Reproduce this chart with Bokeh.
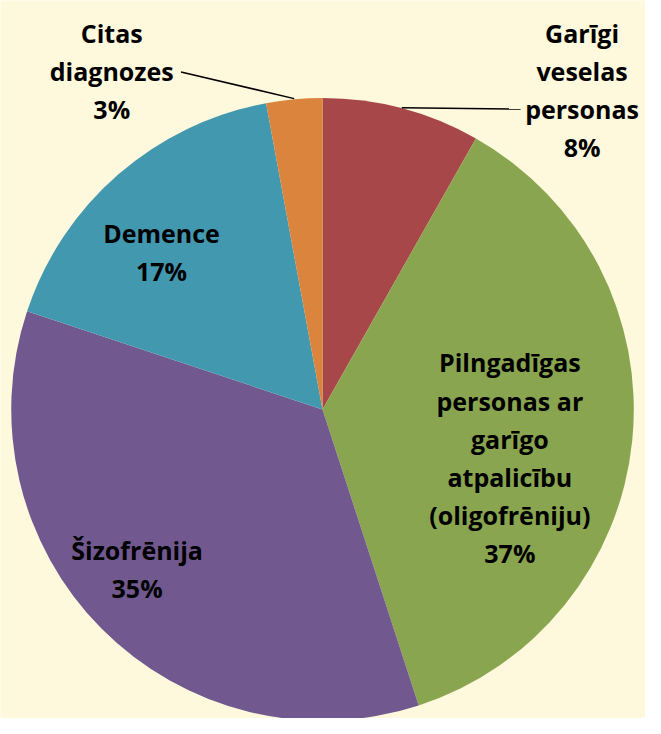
import math
from bokeh.plotting import figure
from bokeh.models import Range1d, ColumnDataSource
from bokeh.core.properties import value
from bokeh.embed import file_html
from bokeh.resources import INLINE

# ---- data ----
categories = ["Garīgi veselas personas",
              "Pilngadīgas personas ar garīgo atpalicību (oligofrēniju)",
              "Šizofrēnija", "Demence", "Citas diagnozes"]
shares = [8.2, 36.8, 35.1, 17.0, 2.9]
colors = ["#A84749", "#8AA54F", "#71598F", "#4298AF", "#DB843E"]
label_lines = [["Garīgi", "veselas", "personas"],
               ["Pilngadīgas", "personas ar", "garīgo", "atpalicību", "(oligofrēniju)"],
               ["Šizofrēnija"],
               ["Demence"],
               ["Citas", "diagnozes"]]

# ---- layout (reference px, converted to y-up) ----
W, H = 661, 734
M = 8
BG = "#FEF8DC"
def sy(y):
    return H - y

cx, cy, R = 330, sy(418), 319
label_pos = [(596, 33), (522, 370), (140, 562), (165, 238), (114, 33)]
line_step = 39
leader_ends = [(533, 111), None, None, None, (185, 73)]

p = figure(width=W - 2 * M, height=H - 2 * M, output_backend="svg",
           toolbar_location=None, x_range=Range1d(0, W),
           y_range=Range1d(0, H), min_border=0,
           background_fill_color=BG, border_fill_color=BG)
p.axis.visible = False
p.grid.visible = False
p.outline_line_color = None

total = sum(shares)
starts, ends, mids = [], [], []
cum = 0.0
for s in shares:
    a0 = math.pi / 2 - 2 * math.pi * cum / total
    cum += s
    a1 = math.pi / 2 - 2 * math.pi * cum / total
    starts.append(a1)
    ends.append(a0)
    mids.append((a0 + a1) / 2)

src = ColumnDataSource(dict(x=[cx] * len(shares), y=[cy] * len(shares),
                            start=starts, end=ends, color=colors))
p.wedge(x="x", y="y", radius=R, start_angle="start", end_angle="end",
        direction="anticlock", fill_color="color", line_color=None, source=src)

# leader lines
for i, e in enumerate(leader_ends):
    if e is None:
        continue
    x0 = cx + R * math.cos(mids[i])
    y0 = cy + R * math.sin(mids[i])
    p.line([x0, e[0]], [y0, sy(e[1])], line_color="black", line_width=1.5)

# labels
tx, ty, tt = [], [], []
for i, lines in enumerate(label_lines):
    pct = f"{round(shares[i] / total * 100)}%"
    allines = lines + [pct]
    x, y = label_pos[i]
    for k, t in enumerate(allines):
        tx.append(x)
        ty.append(sy(y + k * line_step))
        tt.append(t)
p.text(x=tx, y=ty, text=tt, text_align="center", text_baseline="alphabetic",
       text_font=value("Open Sans"), text_font_style="bold",
       text_font_size="25px", text_color="black")

open("out.html", "w").write(file_html(p, INLINE))
